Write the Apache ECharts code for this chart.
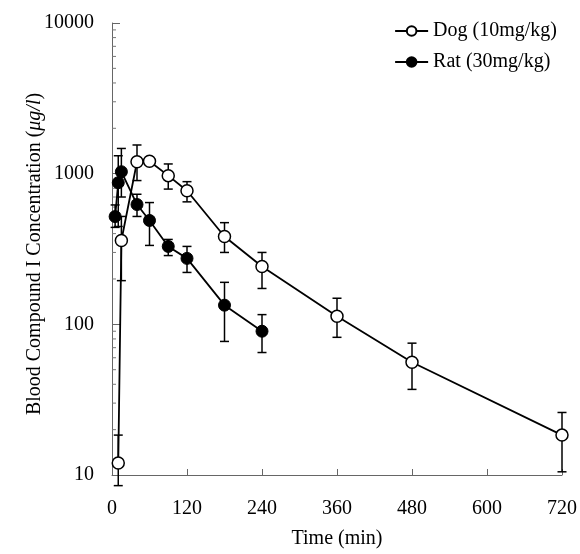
<!DOCTYPE html>
<html>
<head>
<meta charset="utf-8">
<script src="https://cdn.jsdelivr.net/npm/echarts@6/dist/echarts.min.js"></script>
<style>html,body{margin:0;padding:0;background:#fff}#c{width:580px;height:554px}</style>
</head>
<body>
<div id="c"></div>
<script>
const xTicks = [0, 120, 240, 360, 480, 600, 720];
const yTicks = [10, 100, 1000, 10000];
const yMinorTicks = [20,30,40,50,60,70,80,90,200,300,400,500,600,700,800,900,2000,3000,4000,5000,6000,7000,8000,9000];

const dogName = 'Dog (10mg/kg)';
const dogTime = [10, 15, 40, 60, 90, 120, 180, 240, 360, 480, 720];
const dogMean = [12, 360, 1200, 1210, 970, 770, 383, 242, 113, 56, 18.4];
const dogLow  = [8.5, 195, 900, 1150, 790, 650, 300, 173, 82, 37, 10.5];
const dogHigh = [18.4, 520, 1550, 1280, 1160, 885, 473, 300, 149, 75, 26];

const ratName = 'Rat (30mg/kg)';
const ratTime = [5, 10, 15, 40, 60, 90, 120, 180, 240];
const ratMean = [519, 871, 1030, 624, 489, 329, 274, 134, 90];
const ratLow  = [440, 446, 700, 520, 334, 286, 221, 77, 65];
const ratHigh = [620, 1315, 1470, 730, 643, 366, 329, 190, 116];

const FONT = 'Liberation Serif';

function zip2(a, b) { return a.map((v, i) => [v, b[i]]); }
function zip3(a, b, c) { return a.map((v, i) => [v, b[i], c[i]]); }

function errRender(params, api) {
  const x = api.value(0), lo = api.value(1), hi = api.value(2);
  const p1 = api.coord([x, lo]);
  const p2 = api.coord([x, hi]);
  const w = 4.5;
  const st = { stroke: '#000', lineWidth: 1.5 };
  return {
    type: 'group',
    children: [
      { type: 'line', shape: { x1: p1[0], y1: p1[1], x2: p2[0], y2: p2[1] }, style: st },
      { type: 'line', shape: { x1: p1[0] - w, y1: p1[1], x2: p1[0] + w, y2: p1[1] }, style: st },
      { type: 'line', shape: { x1: p2[0] - w, y1: p2[1], x2: p2[0] + w, y2: p2[1] }, style: st }
    ]
  };
}

function minorRender(params, api) {
  const p = api.coord([0, api.value(0)]);
  return { type: 'line', shape: { x1: p[0], y1: p[1], x2: p[0] + 4, y2: p[1] }, style: { stroke: '#777', lineWidth: 1 } };
}

const chart = echarts.init(document.getElementById('c'));
chart.setOption({
  animation: false,
  backgroundColor: '#fff',
  grid: { left: 112, right: 18, top: 23, bottom: 77, containLabel: false },
  legend: {
    data: [dogName, ratName],
    orient: 'vertical',
    right: 18,
    top: 16,
    itemGap: 11,
    itemWidth: 33,
    itemHeight: 12,
    textStyle: { fontFamily: FONT, fontSize: 20, color: '#000' }
  },
  xAxis: {
    type: 'value',
    min: xTicks[0],
    max: xTicks[xTicks.length - 1],
    interval: 120,
    name: 'Time (min)',
    nameLocation: 'middle',
    nameGap: 54,
    nameTextStyle: { fontFamily: FONT, fontSize: 20, color: '#000' },
    axisLine: { lineStyle: { color: '#666', width: 1 } },
    axisTick: { inside: true, length: 6, lineStyle: { color: '#666' } },
    axisLabel: { fontFamily: FONT, fontSize: 20, color: '#000', margin: 24 },
    splitLine: { show: false }
  },
  yAxis: {
    type: 'log',
    logBase: 10,
    min: yTicks[0],
    max: yTicks[yTicks.length - 1],
    name: '{n|Blood Compound I Concentration (}{i|μg/l}{n|)}',
    nameLocation: 'middle',
    nameGap: 67,
    nameRotate: 90,
    nameMoveOverlap: false,
    nameTextStyle: {
      padding: [0, 10, 0, 0],
      rich: {
        n: { fontFamily: FONT, fontSize: 20, color: '#000' },
        i: { fontFamily: FONT, fontSize: 20, fontStyle: 'italic', color: '#000' }
      }
    },
    axisLine: { show: true, lineStyle: { color: '#666', width: 1 } },
    axisTick: { inside: true, length: 8, lineStyle: { color: '#666' } },
    axisLabel: { fontFamily: FONT, fontSize: 20, color: '#000', margin: 18, formatter: v => String(v) },
    splitLine: { show: false }
  },
  series: [
    {
      type: 'custom', name: 'minor', renderItem: minorRender, clip: false, silent: true, z: 1,
      data: yMinorTicks.map(v => [v]), encode: { y: 0 }
    },
    {
      type: 'custom', name: 'dogErr', renderItem: errRender, clip: false, silent: true, z: 2,
      data: zip3(dogTime, dogLow, dogHigh), encode: { x: 0, y: [1, 2] }
    },
    {
      type: 'custom', name: 'ratErr', renderItem: errRender, clip: false, silent: true, z: 2,
      data: zip3(ratTime, ratLow, ratHigh), encode: { x: 0, y: [1, 2] }
    },
    {
      type: 'line', name: dogName, data: zip2(dogTime, dogMean), z: 5,
      symbol: 'circle', symbolSize: 12, showAllSymbol: true,
      lineStyle: { color: '#000', width: 1.8 },
      itemStyle: { color: '#fff', borderColor: '#000', borderWidth: 1.5 }
    },
    {
      type: 'line', name: ratName, data: zip2(ratTime, ratMean), z: 5,
      symbol: 'circle', symbolSize: 12, showAllSymbol: true,
      lineStyle: { color: '#000', width: 1.8 },
      itemStyle: { color: '#000', borderColor: '#000', borderWidth: 1 }
    }
  ]
});
</script>
</body>
</html>
